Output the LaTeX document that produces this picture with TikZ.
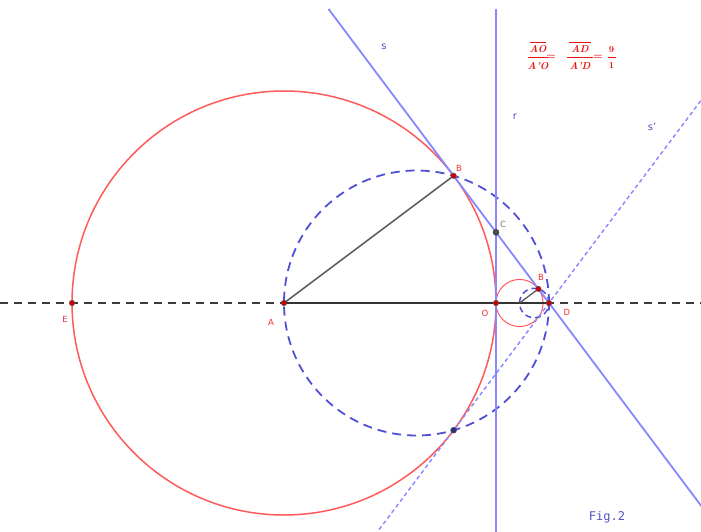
\documentclass[tikz,border=0pt]{standalone}
\usepackage{fontspec}
\setsansfont{DejaVu Sans}
\setmonofont{DejaVu Sans Mono}
\definecolor{circred}{RGB}{255,90,90}
\definecolor{ptred}{RGB}{210,0,0}
\definecolor{lblred}{RGB}{240,50,50}
\definecolor{fred}{RGB}{235,20,20}
\definecolor{lineblue}{RGB}{135,135,255}
\definecolor{dashblue}{RGB}{80,80,215}
\definecolor{lblblue}{RGB}{80,80,200}
\definecolor{axisgray}{RGB}{60,60,60}
\tikzset{
  redcirc/.style={draw=circred,line width=1.5pt},
  bluedash/.style={draw=dashblue,line width=1.8pt,dash pattern=on 9pt off 6pt},
  smalldash/.style={draw=dashblue,line width=1.5pt,dash pattern=on 6pt off 4pt},
  blueline/.style={draw=lineblue,line width=1.8pt},
  bluedashline/.style={draw=lineblue,line width=1.4pt,dash pattern=on 4pt off 3pt},
  axis/.style={draw=axisgray,line width=1.2pt,dash pattern=on 8pt off 6pt},
  seg/.style={draw=black!80,line width=1.5pt},
  redpt/.style={circle,fill=ptred,draw=black!70,line width=0.4pt,inner sep=0pt,minimum size=5.5pt},
  graypt/.style={circle,fill=black!70,draw=black!80,line width=0.4pt,inner sep=0pt,minimum size=6pt},
  bluept/.style={circle,fill=dashblue!60!black,draw=black!70,line width=0.4pt,inner sep=0pt,minimum size=6pt},
  lbl/.style={font=\sffamily\fontsize{8.5}{10}\selectfont,text=lblred,inner sep=0pt},
  linelbl/.style={font=\sffamily\fontsize{10}{12}\selectfont,text=lblblue,inner sep=0pt},
  ftext/.style={text=fred,inner sep=0pt,font=\bfseries\itshape\fontsize{10}{11}\selectfont},
  fnum/.style={text=fred,inner sep=0pt,font=\bfseries\fontsize{9}{10}\selectfont},
  fbar/.style={draw=fred,line width=0.9pt}
}
\begin{document}
\begin{tikzpicture}[x=1pt,y=-1pt]
\useasboundingbox (0,0) rectangle (701,532);
\clip (0,0) rectangle (701,532);
% key points
\coordinate (A) at (284,303);
\coordinate (O) at (496,303);
\coordinate (D) at (549,303);
\coordinate (Ap) at (519.56,303);
\coordinate (E) at (72,303);
\coordinate (B) at (453.6,175.8);
\coordinate (F) at (453.6,430.2);
\coordinate (C) at (496,232.3);
\coordinate (Bp) at (538.4,288.9);
\coordinate (M) at (416.5,303);
\coordinate (Mp) at (534.28,303);
% line ends
\coordinate (axL) at (0,303);
\coordinate (axR) at (701,303);
\coordinate (sT) at (328.5,9);
\coordinate (sB) at (720.75,532);
\coordinate (spT) at (776.25,0);
\coordinate (spB) at (377.25,532);
\coordinate (rT) at (496,9);
\coordinate (rB) at (496,532);
% axis
\draw[axis] (axL) -- (axR);
% circles
\draw[redcirc] (A) circle[radius=212pt];
\draw[redcirc,line width=1pt] (Ap) circle[radius=23.56pt];
\draw[bluedash] (M) circle[radius=132.5pt];
\draw[smalldash] (Mp) circle[radius=14.72pt];
% lines
\draw[blueline] (rT) -- (rB);
\draw[blueline] (sT) -- (sB);
\draw[bluedashline] (spT) -- (spB);
% segments
\draw[seg] (A) -- (D);
\draw[draw=black!65,line width=1.5pt] (A) -- (B);
\draw[draw=black!65,line width=1.3pt] (Ap) -- (Bp);
% points
\node[redpt] (pA) at (A) {};
\node[redpt] (pO) at (O) {};
\node[redpt] (pD) at (D) {};
\node[redpt] (pE) at (E) {};
\node[redpt] (pB) at (B) {};
\node[redpt] (pBp) at (Bp) {};
\node[graypt] (pC) at (C) {};
\node[bluept] (pF) at (F) {};
% labels
\node[lbl] (lE) at (65,319) {E};
\node[lbl] (lA) at (271,322) {A};
\node[lbl] (lO) at (485,313) {O};
\node[lbl] (lD) at (567,312) {D};
\node[lbl] (lB) at (459,168) {B};
\node[lbl] (lBp) at (541,277) {B};
\node[lbl,text=black!55] (lC) at (503,224) {C};
\node[linelbl] (ls) at (384,47) {s};
\node[linelbl] (lr) at (515,117) {r};
\node[linelbl] (lsp) at (652,127) {s'};
\node[font=\ttfamily\fontsize{12}{14}\selectfont,text=lblblue,inner sep=0pt] (fig) at (607,517) {Fig.2};
% formula
\node[ftext] (n1) at (538,49) {AO};
\node[ftext] (d1) at (538,66) {A'O};
\node[ftext,font=\bfseries\fontsize{10.5}{11}\selectfont] (eq1) at (551,57.5) {=};
\node[ftext] (n2) at (580,49) {AD};
\node[ftext] (d2) at (580,66) {A'D};
\node[ftext,font=\bfseries\fontsize{10.5}{11}\selectfont] (eq2) at (598,57.5) {=};
\node[fnum] (n3) at (611.5,50) {9};
\node[fnum] (d3) at (611.5,66) {1};
\coordinate (o1a) at (530,42.5);
\coordinate (o1b) at (546,42.5);
\coordinate (b1a) at (528,57.5);
\coordinate (b1b) at (548,57.5);
\coordinate (o2a) at (569,42.5);
\coordinate (o2b) at (591,42.5);
\coordinate (b2a) at (567,57.5);
\coordinate (b2b) at (593,57.5);
\coordinate (b3a) at (607.5,57.5);
\coordinate (b3b) at (615.5,57.5);
\draw[fbar] (o1a) -- (o1b);
\draw[fbar] (b1a) -- (b1b);
\draw[fbar] (o2a) -- (o2b);
\draw[fbar] (b2a) -- (b2b);
\draw[fbar] (b3a) -- (b3b);
\end{tikzpicture}
\end{document}
